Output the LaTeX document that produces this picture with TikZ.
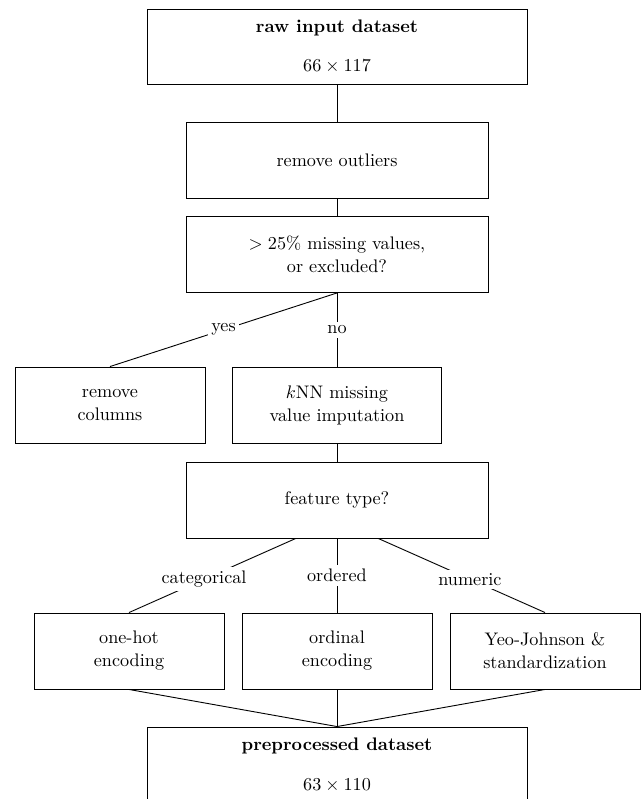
\documentclass[tikz,border=0pt]{standalone}
\usepackage{amsmath,amssymb}
\usepackage{tikz}
\usetikzlibrary{calc}
\newcommand{\boxfont}{\fontsize{10}{12.6}\selectfont}
\tikzset{
  stepbox/.style={draw, line width=0.5pt, align=center, inner sep=0pt, font=\boxfont, minimum height=41.8pt},
  wide/.style={stepbox, minimum width=209pt},
  mid/.style={stepbox, minimum width=166.1pt},
  small/.style={stepbox, minimum width=104.5pt},
  knnbox/.style={stepbox, minimum width=115pt},
  branch/.style={fill=white, inner sep=2pt, font=\boxfont},
  link/.style={line width=0.5pt}
}

\begin{document}
\begin{tikzpicture}[x=0.55pt,y=-0.55pt]
\useasboundingbox (0,0) rectangle (643,799);
% main column
\node[wide, minimum height=41.25pt] (raw) at (337,46.5) {\textbf{raw input dataset}\\[9pt]$66\times117$};
\node[mid] (outliers) at (337,160) {remove outliers};
\node[mid] (missing) at (337,254.5) {$>25\%$ missing values,\\or excluded?};
% row1
\node[small] (remcols) at (110,405) {remove\\columns};
\node[knnbox] (knn) at (337,405) {$k$NN missing\\value imputation};
\node[mid] (ftype) at (337,500) {feature type?};
% row2
\node[small] (onehot) at (129,651) {one-hot\\encoding};
\node[small] (ordinal) at (337,651) {ordinal\\encoding};
\node[small] (yeo) at (545,651) {Yeo-Johnson \&\\standardization};
\node[wide] (result) at (337,765) {\textbf{preprocessed dataset}\\[9pt]$63\times110$};

\draw[link] (raw) -- (outliers);
\draw[link] (outliers) -- (missing);
\draw[link] (missing.south) -- node[branch] {yes} (remcols.north);
\draw[link] (missing.south) -- node[branch] {no} (knn.north);
\draw[link] (knn) -- (ftype);
\draw[link] (ftype.223) -- node[branch, pos=0.55] {categorical} (onehot.north);
\draw[link] (ftype.south) -- node[branch] {ordered} (ordinal.north);
\draw[link] (ftype.317) -- node[branch, pos=0.55] {numeric} (yeo.north);
\draw[link] (onehot.south) -- (result.north);
\draw[link] (ordinal.south) -- (result.north);
\draw[link] (yeo.south) -- (result.north);
\end{tikzpicture}
\end{document}
